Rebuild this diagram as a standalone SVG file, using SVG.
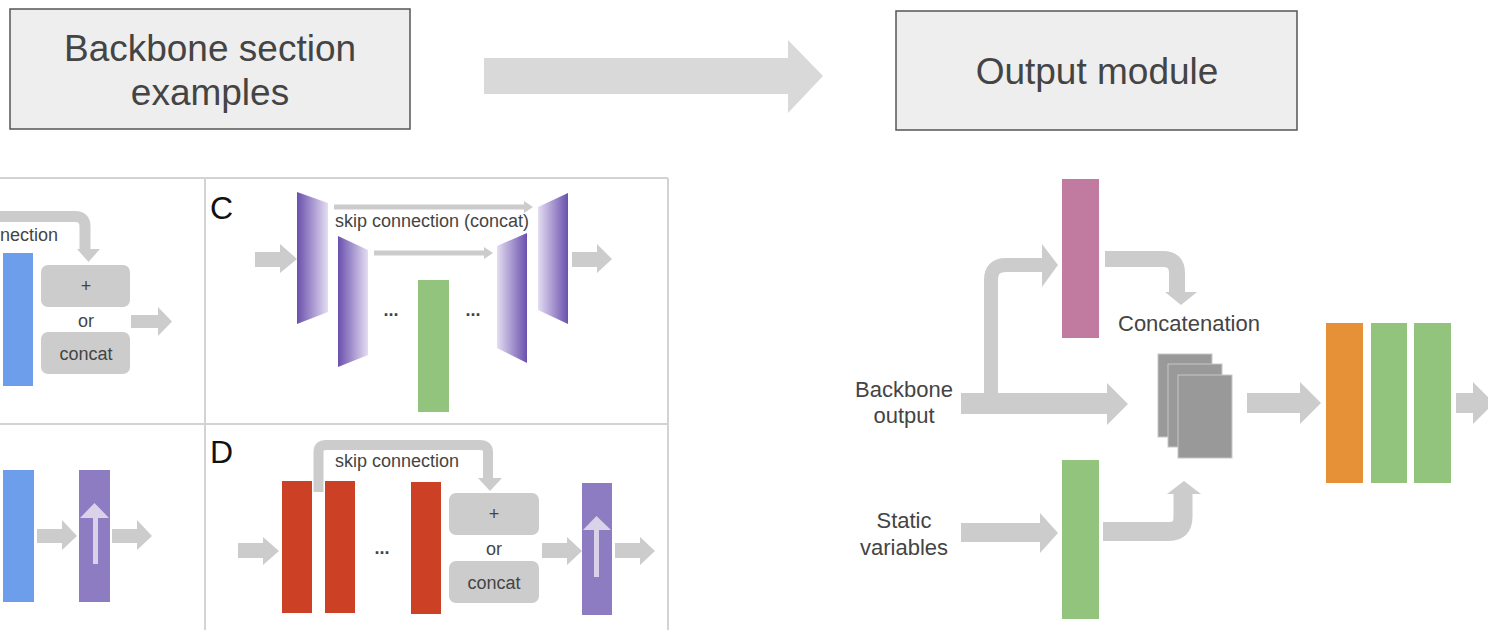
<svg xmlns="http://www.w3.org/2000/svg" width="1488" height="630" viewBox="0 0 1488 630">
<defs>
<linearGradient id="encG" x1="0" y1="0" x2="1" y2="0"><stop offset="0" stop-color="#6a50ad"/><stop offset="1" stop-color="#e4ddf2"/></linearGradient>
<linearGradient id="decG" x1="0" y1="0" x2="1" y2="0"><stop offset="0" stop-color="#e4ddf2"/><stop offset="1" stop-color="#6a50ad"/></linearGradient>
<style>
.hdr{fill:#eeeeee;stroke:#555555;stroke-width:1.5}
.ht{font-family:"Liberation Sans",Arial,sans-serif;font-size:37px;fill:#444444;text-anchor:middle}
.grid{stroke:#d3d3d3;stroke-width:2;fill:none}
.arr{fill:#cccccc}
.band{fill:none;stroke:#cccccc;stroke-linejoin:round}
.op{fill:#cccccc}
.t{font-family:"Liberation Sans",Arial,sans-serif;fill:#444444}
.s16{font-size:18px}
.s19{font-size:22px}
.mid{text-anchor:middle}
.lbl{font-family:"Liberation Sans",Arial,sans-serif;font-size:32px;fill:#111111}
.blue{fill:#6d9eeb}
.purple{fill:#8e7cc3}
.green{fill:#93c47d}
.red{fill:#cc4125}
.pink{fill:#c27ba0}
.orange{fill:#e69138}
.inner{fill:#d9d2e9}
.stack{fill:#999999;stroke:#c8c8c8;stroke-width:1}
</style>
</defs>
<rect width="1488" height="630" fill="#ffffff"/>

<g id="header-backbone">
<rect class="hdr" x="10" y="9" width="400" height="120"/>
<text class="ht" x="210" y="61">Backbone section</text>
<text class="ht" x="210" y="105">examples</text>
</g>
<g id="header-output">
<rect class="hdr" x="896" y="11" width="401" height="119"/>
<text class="ht" x="1097" y="84">Output module</text>
</g>

<g id="grid">
<line class="grid" x1="0" y1="178" x2="668" y2="178"/>
<line class="grid" x1="0" y1="424" x2="668" y2="424"/>
<line class="grid" x1="205" y1="178" x2="205" y2="630"/>
<line class="grid" x1="668" y1="178" x2="668" y2="630"/>
</g>

<g id="connectors">
<polygon fill="#d9d9d9" points="484,58 788,58 788,40 823,76 788,113 788,94 484,94"/>
<path class="band" stroke-width="11" d="M0,216.5 H75 Q85,216.5 85,226.5 V250"/>
<polygon class="arr" points="77,249 100,249 88.5,262"/>
<polygon class="arr" points="131,315 158,315 158,307 172,321.5 158,336 158,328 131,328"/>
<polygon class="arr" points="255,252 280,252 280,244 297,259 280,273 280,267 255,267"/>
<polygon class="arr" points="572,252 597,252 597,244 612,259 597,273 597,267 572,267"/>
<polygon class="arr" points="334,204.5 524,204.5 524,201 533,207 524,213 524,209.5 334,209.5"/>
<polygon class="arr" points="374,250.5 484,250.5 484,247 493,253 484,259 484,255.5 374,255.5"/>
<polygon class="arr" points="37,529 62,529 62,520 77,536 62,550 62,543 37,543"/>
<polygon class="arr" points="112,529 137,529 137,520 152,536 137,550 137,543 112,543"/>
<path class="band" stroke-width="10" d="M318.5,492 V452 Q318.5,445 326,445 H480 Q488,445 488,452 V479"/>
<polygon class="arr" points="478,478 502,478 490,491"/>
<polygon class="arr" points="238,543 263,543 263,537 279,551 263,565 263,558 238,558"/>
<polygon class="arr" points="542,543 567,543 567,537 582,551 567,565 567,558 542,558"/>
<polygon class="arr" points="615,543 640,543 640,537 655,551 640,565 640,558 615,558"/>
<polygon class="arr" points="961,393 1107,393 1107,383 1128,404 1107,425 1107,414 961,414"/>
<path class="band" stroke-width="14" d="M991,394 V280 Q991,265 1006,265 H1043"/>
<polygon class="arr" points="1042,244 1058,265 1042,287"/>
<path class="band" stroke-width="16" d="M1105,259 H1163 Q1177,259 1177,273 V293"/>
<polygon class="arr" points="1165,292 1197,292 1181,305"/>
<polygon class="arr" points="961,523 1040,523 1040,513 1058,533 1040,553 1040,542 961,542"/>
<path class="band" stroke-width="19" d="M1103,531.5 H1169 Q1183,531.5 1183,517 V492"/>
<polygon class="arr" points="1167,494 1201,494 1184,481"/>
<polygon class="arr" points="1247,393 1300,393 1300,382 1321,403 1300,424 1300,413 1247,413"/>
<polygon class="arr" points="1456,393 1473,393 1473,382 1494,403 1473,424 1473,413 1456,413"/>
</g>

<g id="panel-a">
<text class="t s16" x="0" y="241">nection</text>
<rect class="blue" x="3" y="253" width="30" height="133"/>
<rect class="op" x="41" y="265" width="89" height="42" rx="7"/>
<text class="t s16 mid" x="86" y="292">+</text>
<text class="t s16 mid" x="86" y="327">or</text>
<rect class="op" x="41" y="332" width="89" height="42" rx="7"/>
<text class="t s16 mid" x="86" y="360">concat</text>
</g>

<g id="panel-c">
<text class="lbl" x="210" y="219">C</text>
<polygon fill="url(#encG)" points="297,192 328,203 328,312 297,324"/>
<polygon fill="url(#encG)" points="338,236 368,250 368,355 338,367"/>
<rect class="green" x="418" y="280" width="31" height="132"/>
<polygon fill="url(#decG)" points="497,246 527,233 527,363 497,348"/>
<polygon fill="url(#decG)" points="538,207 568,193 568,324 538,310"/>
<text class="t s16" x="335" y="227">skip connection (concat)</text>
<text class="t s16 mid" x="391" y="316" font-weight="bold">...</text>
<text class="t s16 mid" x="473" y="316" font-weight="bold">...</text>
</g>

<g id="panel-b">
<rect class="blue" x="3" y="470" width="31" height="132"/>
<rect class="purple" x="79" y="470" width="31" height="132"/>
<rect class="inner" x="93" y="517" width="5" height="47"/>
<polygon class="inner" points="80,518 109,518 94.5,503"/>
</g>

<g id="panel-d">
<text class="lbl" x="210" y="463">D</text>
<text class="t s16" x="335" y="467">skip connection</text>
<rect class="red" x="282" y="481" width="30" height="132"/>
<rect class="red" x="325" y="481" width="30" height="132"/>
<rect class="red" x="411" y="482" width="30" height="132"/>
<text class="t s16 mid" x="382" y="554" font-weight="bold">...</text>
<rect class="op" x="449" y="493" width="90" height="42" rx="7"/>
<text class="t s16 mid" x="494" y="520">+</text>
<text class="t s16 mid" x="494" y="555">or</text>
<rect class="op" x="449" y="561" width="90" height="42" rx="7"/>
<text class="t s16 mid" x="494" y="589">concat</text>
<rect class="purple" x="582" y="483" width="30" height="132"/>
<rect class="inner" x="594" y="530" width="5" height="47"/>
<polygon class="inner" points="583,530 611,530 596.5,516"/>
</g>

<g id="output-module">
<text class="t s19 mid" x="904" y="397">Backbone</text>
<text class="t s19 mid" x="904" y="423">output</text>
<text class="t s19 mid" x="904" y="528">Static</text>
<text class="t s19 mid" x="904" y="555">variables</text>
<rect class="pink" x="1062" y="179" width="37" height="159"/>
<rect class="green" x="1062" y="460" width="37" height="159"/>
<text class="t s19" x="1118" y="331">Concatenation</text>
<rect class="stack" x="1158" y="354" width="54" height="83"/>
<rect class="stack" x="1168" y="364" width="54" height="83"/>
<rect class="stack" x="1178" y="375" width="54" height="83"/>
<rect class="orange" x="1326" y="323" width="37" height="160"/>
<rect class="green" x="1371" y="323" width="36" height="160"/>
<rect class="green" x="1414" y="323" width="37" height="160"/>
</g>
</svg>
